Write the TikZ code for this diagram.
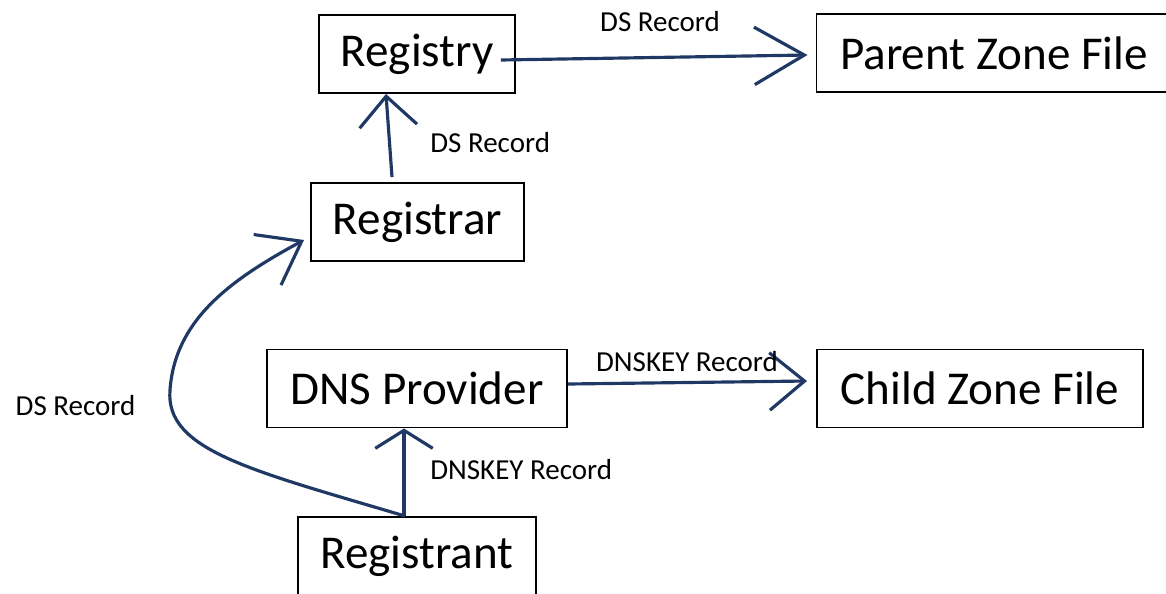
\documentclass[tikz,border=0pt]{standalone}
\usepackage{fontspec}
\setmainfont{Carlito}
\usepackage{tikz}
\usetikzlibrary{arrows.meta, positioning}
\definecolor{pencolor}{RGB}{31,56,100}
\tikzset{
  entity/.style={draw, line width=1.1pt, minimum width=#1, minimum height=1.56cm,
                 font=\fontsize{26.8}{32}\selectfont, inner sep=0pt},
  entity/.default=4cm,
  recarrow/.style={-{Straight Barb[length=#1, width=1.15cm]}, line width=1.8pt,
                   draw=pencolor},
  recarrow/.default=0.7cm,
  reclabel/.style={font=\fontsize{16.5}{20}\selectfont, inner sep=0pt},
}

\begin{document}
\begin{tikzpicture}
  \useasboundingbox (0,0) rectangle (23.32,-11.86);

  % Boxes
  \node[entity=3.92cm] (registry)   at (8.34,-1.08)  {Registry};
  \node[entity=7.1cm]  (parent)     at (19.88,-1.06) {Parent Zone File};
  \node[entity=4.26cm] (registrar)  at (8.35,-4.44)  {Registrar};
  \node[entity=6cm]    (provider)   at (8.34,-7.77)  {DNS Provider};
  \node[entity=6.52cm] (child)      at (19.6,-7.77)  {Child Zone File};
  \node[entity=4.76cm] (registrant) at (8.34,-11.12) {Registrant};

  % DS record to the parent zone
  \draw[recarrow=1cm] ([xshift=-0.3cm, yshift=-0.12cm]registry.east)
    -- ([xshift=-0.16cm, yshift=-0.04cm]parent.west);
  \node[reclabel] (dstop) at (13.2,-0.44) {DS Record};

  \draw[recarrow=0.6cm] ([xshift=-0.51cm, yshift=0.1cm]registrar.north)
    -- ([xshift=-0.62cm]registry.south);
  \node[reclabel, anchor=west] (dsup) at (8.6,-2.86) {DS Record};

  % DS record from the registrant, round the left side
  \coordinate (dsbend) at (3.4,-7.8);
  \coordinate (dstip) at (6.08,-4.8);
  \draw[recarrow=0.78cm] ([xshift=-0.24cm]registrant.north)
    .. controls (5,-9.4) and (3.3,-9) .. (dsbend)
    .. controls (3.5,-6.4) and (4.6,-5.6) .. (dstip);
  \node[reclabel] (dsleft) at (1.51,-8.12) {DS Record};

  % DNSKEY record to the child zone
  \draw[recarrow=0.36cm] ([xshift=-0.26cm]registrant.north)
    -- ([xshift=-0.26cm]provider.south);
  \node[reclabel, anchor=west] (keyup) at (8.6,-9.4) {DNSKEY Record};

  \draw[recarrow=0.7cm] ([yshift=0.09cm]provider.east)
    -- ([xshift=-0.18cm, yshift=0.15cm]child.west);
  \node[reclabel] (keytop) at (13.74,-7.24) {DNSKEY Record};

\end{tikzpicture}
\end{document}
